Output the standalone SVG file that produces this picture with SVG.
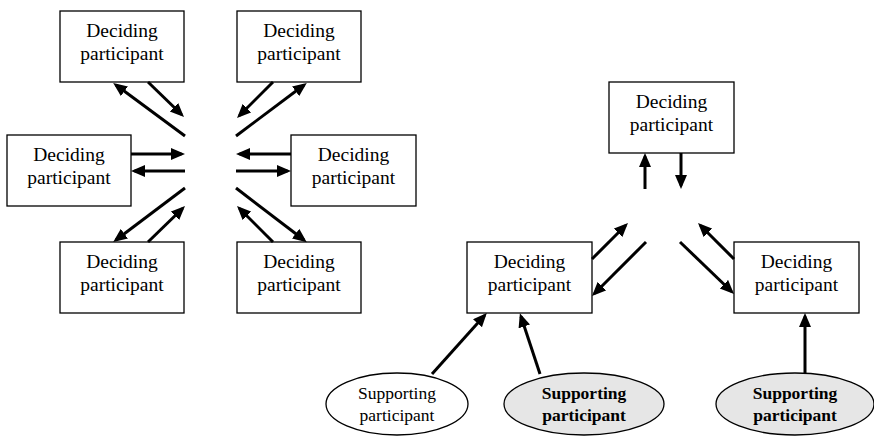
<svg xmlns="http://www.w3.org/2000/svg" width="874" height="436" viewBox="0 0 874 436">
<style>
.box{fill:#fff;stroke:#000;stroke-width:1.3}
.ell{stroke:#000;stroke-width:1.3}
.w{fill:#fff}
.g{fill:#e6e6e6}
text{font-family:'Liberation Serif','Times New Roman','DejaVu Serif',serif;text-anchor:middle;fill:#000}
.t{font-size:19.5px}
.s{font-size:17.5px}
.b{font-weight:bold}
.c line{stroke:#000;stroke-width:3;marker-end:url(#ah)}
</style>
<defs>
<marker id="ah" markerUnits="userSpaceOnUse" markerWidth="15" markerHeight="13" refX="10.5" refY="6" orient="auto">
<path d="M0,0 L14,6 L0,12 z" fill="#000"/>
</marker>
</defs>
<rect width="874" height="436" fill="#fff"/>
<g font-family="Liberation Serif, serif">
<g id="d1"><rect class="box" x="60" y="11" width="124" height="71"/><text class="t" x="122" y="37">Deciding</text><text class="t" x="122" y="60">participant</text></g>
<g id="d2"><rect class="box" x="237" y="11" width="124" height="71"/><text class="t" x="299" y="37">Deciding</text><text class="t" x="299" y="60">participant</text></g>
<g id="d3"><rect class="box" x="7" y="135" width="124" height="71"/><text class="t" x="69" y="161">Deciding</text><text class="t" x="69" y="184">participant</text></g>
<g id="d4"><rect class="box" x="291" y="135" width="125" height="71"/><text class="t" x="353.5" y="161">Deciding</text><text class="t" x="353.5" y="184">participant</text></g>
<g id="d5"><rect class="box" x="60" y="242" width="124" height="71"/><text class="t" x="122" y="268">Deciding</text><text class="t" x="122" y="291">participant</text></g>
<g id="d6"><rect class="box" x="237" y="242" width="124" height="71"/><text class="t" x="299" y="268">Deciding</text><text class="t" x="299" y="291">participant</text></g>
<g id="d7"><rect class="box" x="609" y="82" width="125" height="71"/><text class="t" x="671.5" y="108">Deciding</text><text class="t" x="671.5" y="131">participant</text></g>
<g id="d8"><rect class="box" x="467" y="242" width="125" height="71"/><text class="t" x="529.5" y="268">Deciding</text><text class="t" x="529.5" y="291">participant</text></g>
<g id="d9"><rect class="box" x="734" y="242" width="125" height="71"/><text class="t" x="796.5" y="268">Deciding</text><text class="t" x="796.5" y="291">participant</text></g>
<g id="s1"><ellipse class="ell w" cx="397" cy="404" rx="71" ry="31"/><text class="s" x="397" y="399">Supporting</text><text class="s" x="397" y="421">participant</text></g>
<g id="s2"><ellipse class="ell g" cx="584" cy="404" rx="80" ry="31"/><text class="s b" x="584" y="399">Supporting</text><text class="s b" x="584" y="421">participant</text></g>
<g id="s3"><ellipse class="ell g" cx="795" cy="404" rx="79" ry="31"/><text class="s b" x="795" y="399">Supporting</text><text class="s b" x="795" y="421">participant</text></g>
</g>
<g id="connectors" class="c">
<line x1="185" y1="136" x2="116" y2="85"/>
<line x1="148" y1="82" x2="181.5" y2="114.5"/>
<line x1="273" y1="82" x2="239.5" y2="115.5"/>
<line x1="236" y1="136" x2="304" y2="85"/>
<line x1="131" y1="154" x2="181.5" y2="154"/>
<line x1="185" y1="171" x2="134.5" y2="171"/>
<line x1="291" y1="154" x2="239.5" y2="154"/>
<line x1="236" y1="171" x2="287.5" y2="171"/>
<line x1="185" y1="188" x2="116" y2="240"/>
<line x1="148" y1="242" x2="182.5" y2="208.5"/>
<line x1="273" y1="242" x2="239.5" y2="208.5"/>
<line x1="236" y1="188" x2="304" y2="240"/>
<line x1="645" y1="189" x2="645" y2="156.5"/>
<line x1="681" y1="153" x2="681" y2="185.5"/>
<line x1="592" y1="259" x2="625.5" y2="225.5"/>
<line x1="646" y1="242" x2="594.5" y2="293.5"/>
<line x1="680" y1="242" x2="731.5" y2="291.5"/>
<line x1="734" y1="259" x2="700.5" y2="225.5"/>
<line x1="432" y1="374" x2="484.5" y2="315.5"/>
<line x1="540" y1="374" x2="521" y2="316.5"/>
<line x1="805" y1="374" x2="805" y2="316.5"/>
</g>
</svg>
